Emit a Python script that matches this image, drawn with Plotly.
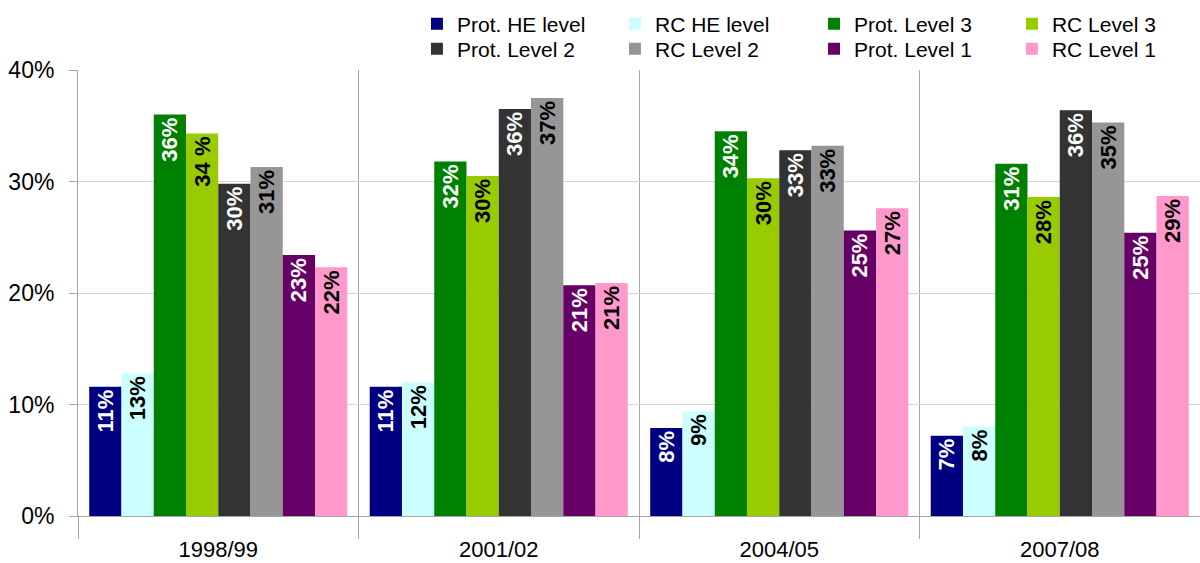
import plotly.graph_objects as go

categories = ["1998/99", "2001/02", "2004/05", "2007/08"]

series_names = ["Prot. HE level", "RC HE level", "Prot. Level 3", "RC Level 3",
                "Prot. Level 2", "RC Level 2", "Prot. Level 1", "RC Level 1"]

prot_he = [0.116, 0.116, 0.079, 0.072]
rc_he = [0.128, 0.120, 0.094, 0.080]
prot_l3 = [0.360, 0.318, 0.345, 0.316]
rc_l3 = [0.343, 0.305, 0.303, 0.286]
prot_l2 = [0.298, 0.365, 0.328, 0.364]
rc_l2 = [0.313, 0.375, 0.332, 0.353]
prot_l1 = [0.234, 0.207, 0.256, 0.254]
rc_l1 = [0.223, 0.209, 0.276, 0.287]

lbl_prot_he = ["11%", "11%", "8%", "7%"]
lbl_rc_he = ["13%", "12%", "9%", "8%"]
lbl_prot_l3 = ["36%", "32%", "34%", "31%"]
lbl_rc_l3 = ["34 %", "30%", "30%", "28%"]
lbl_prot_l2 = ["30%", "36%", "33%", "36%"]
lbl_rc_l2 = ["31%", "37%", "33%", "35%"]
lbl_prot_l1 = ["23%", "21%", "25%", "25%"]
lbl_rc_l1 = ["22%", "21%", "27%", "29%"]

values = [prot_he, rc_he, prot_l3, rc_l3, prot_l2, rc_l2, prot_l1, rc_l1]
labels = [lbl_prot_he, lbl_rc_he, lbl_prot_l3, lbl_rc_l3,
          lbl_prot_l2, lbl_rc_l2, lbl_prot_l1, lbl_rc_l1]
colors = ["#000080", "#ccffff", "#008000", "#99cc00",
          "#333333", "#969696", "#660066", "#ff99cc"]
text_colors = ["white", "black", "white", "black",
               "white", "black", "white", "black"]

FONT = "Liberation Sans, Arial, sans-serif"
H = 563

# legend layout: 4 columns x 2 rows (one legend per entry)
col_x = [0.3021, 0.4786, 0.6560, 0.8324]
row_y = [1 - 24 / H, 1 - 49 / H]

fig = go.Figure()
layout_legends = {}
for i, (name, vals, lbls, col, tcol) in enumerate(zip(series_names, values, labels,
                                                       colors, text_colors)):
    lg = "legend" if i == 0 else f"legend{i + 1}"
    fig.add_trace(go.Bar(
        name=name, x=categories, y=vals, text=lbls, legend=lg, showlegend=True,
        marker=dict(color=col, line=dict(width=0)),
        textposition="inside", insidetextanchor="end", textangle=-90,
        textfont=dict(family=FONT, size=22, color=tcol, weight="bold"),
        hoverinfo="skip",
    ))
    layout_legends[lg] = dict(
        orientation="v", xanchor="left", yanchor="middle", yref="container",
        x=col_x[i % 4], y=row_y[i // 4],
        font=dict(size=21, family=FONT, color="black"),
        itemwidth=30, tracegroupgap=0, bgcolor="rgba(0,0,0,0)", borderwidth=0)

fig.update_layout(
    width=1200, height=H, showlegend=True,
    barmode="group", bargap=0.08, bargroupgap=0,
    plot_bgcolor="white", paper_bgcolor="white",
    margin=dict(l=78, r=0, t=70, b=47, autoexpand=False),
    font=dict(family=FONT, color="black"),
    uniformtext=dict(minsize=22, mode="show"),
    xaxis=dict(showgrid=True, gridcolor="#a6a6a6", gridwidth=1,
               tickson="boundaries", ticks="outside", ticklen=22, tickcolor="#a6a6a6",
               showline=True, linecolor="#a6a6a6", tickfont=dict(size=22),
               ticklabelstandoff=14),
    yaxis=dict(range=[0, 0.4], dtick=0.1, tickformat=".0%",
               showgrid=True, gridcolor="#d4d4d4", gridwidth=1,
               ticks="outside", ticklen=8, tickcolor="#a6a6a6",
               showline=True, linecolor="#a6a6a6", tickfont=dict(size=23),
               ticklabelstandoff=10, zeroline=False),
    **layout_legends,
)

fig.write_html("out.html", config={"displayModeBar": False},
               post_script="document.body.style.margin='0';document.body.style.overflow='hidden';")
